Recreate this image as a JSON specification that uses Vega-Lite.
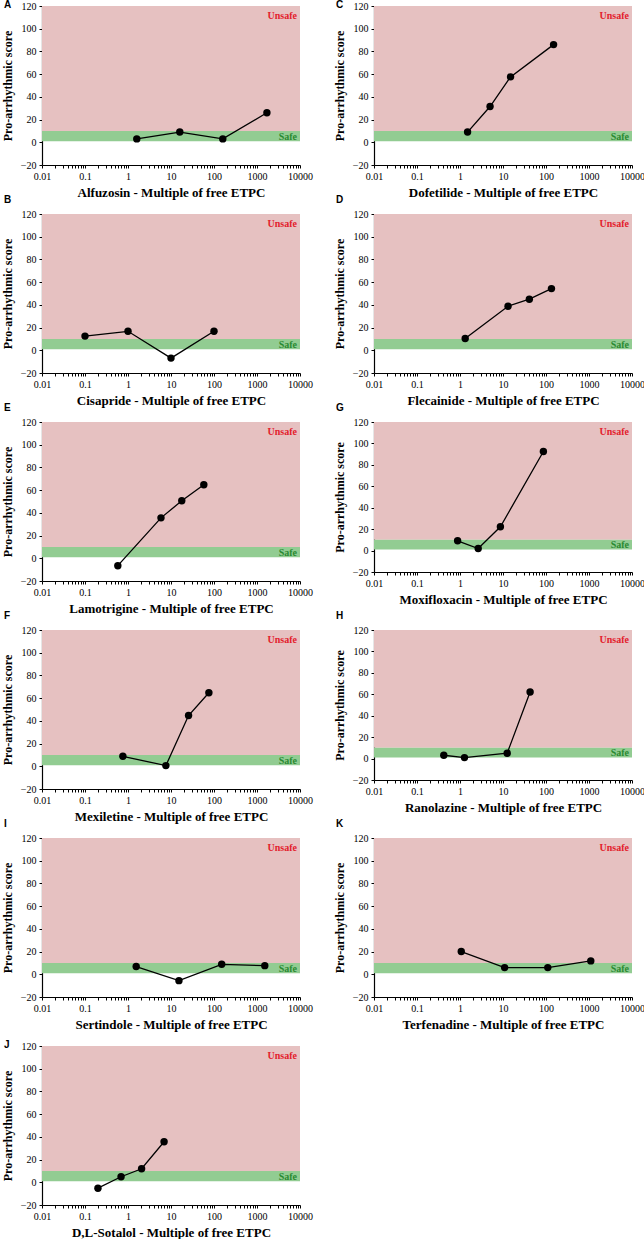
{
"$schema": "https://vega.github.io/schema/vega-lite/v6.json",
"padding": {"left": 1, "top": 0, "right": 0, "bottom": 0},
"background": "white",
"datasets": {
"bands": [{"zone": "Unsafe", "lo": 10, "hi": 120}, {"zone": "Safe", "lo": 1, "hi": 10}],
"drugs": [
{"drug": "Alfuzosin", "multiple": 1.6, "score": 3}, {"drug": "Alfuzosin", "multiple": 16, "score": 9}, {"drug": "Alfuzosin", "multiple": 160, "score": 3}, {"drug": "Alfuzosin", "multiple": 1700, "score": 26},
{"drug": "Dofetilide", "multiple": 1.5, "score": 9}, {"drug": "Dofetilide", "multiple": 5, "score": 31.5}, {"drug": "Dofetilide", "multiple": 15, "score": 57.6}, {"drug": "Dofetilide", "multiple": 150, "score": 86},
{"drug": "Cisapride", "multiple": 0.1, "score": 12.5}, {"drug": "Cisapride", "multiple": 1, "score": 16.7}, {"drug": "Cisapride", "multiple": 10, "score": -6.9}, {"drug": "Cisapride", "multiple": 100, "score": 16.7},
{"drug": "Flecainide", "multiple": 1.32, "score": 10.4}, {"drug": "Flecainide", "multiple": 13.1, "score": 38.8}, {"drug": "Flecainide", "multiple": 41, "score": 45}, {"drug": "Flecainide", "multiple": 134, "score": 54.3},
{"drug": "Lamotrigine", "multiple": 0.58, "score": -6.5}, {"drug": "Lamotrigine", "multiple": 5.85, "score": 35.6}, {"drug": "Lamotrigine", "multiple": 17.8, "score": 50.6}, {"drug": "Lamotrigine", "multiple": 58, "score": 64.7},
{"drug": "Moxifloxacin", "multiple": 0.88, "score": 9.1}, {"drug": "Moxifloxacin", "multiple": 2.65, "score": 1.9}, {"drug": "Moxifloxacin", "multiple": 8.7, "score": 22.2}, {"drug": "Moxifloxacin", "multiple": 87, "score": 92.5},
{"drug": "Mexiletine", "multiple": 0.76, "score": 8.8}, {"drug": "Mexiletine", "multiple": 7.6, "score": 0.6}, {"drug": "Mexiletine", "multiple": 25.6, "score": 44.7}, {"drug": "Mexiletine", "multiple": 76, "score": 64.7},
{"drug": "Ranolazine", "multiple": 0.42, "score": 3.1}, {"drug": "Ranolazine", "multiple": 1.27, "score": 0.9}, {"drug": "Ranolazine", "multiple": 12.5, "score": 5}, {"drug": "Ranolazine", "multiple": 42.7, "score": 62.2},
{"drug": "Sertindole", "multiple": 1.55, "score": 6.8}, {"drug": "Sertindole", "multiple": 15.3, "score": -5.6}, {"drug": "Sertindole", "multiple": 151, "score": 8.8}, {"drug": "Sertindole", "multiple": 1517, "score": 7.6},
{"drug": "Terfenadine", "multiple": 1.07, "score": 20}, {"drug": "Terfenadine", "multiple": 10.9, "score": 5.9}, {"drug": "Terfenadine", "multiple": 110, "score": 5.9}, {"drug": "Terfenadine", "multiple": 1100, "score": 11.8},
{"drug": "D,L-Sotalol", "multiple": 0.2, "score": -5.2}, {"drug": "D,L-Sotalol", "multiple": 0.69, "score": 4.9}, {"drug": "D,L-Sotalol", "multiple": 2.07, "score": 11.9}, {"drug": "D,L-Sotalol", "multiple": 6.9, "score": 35.7}
]
},
"columns": 2,
"bounds": "flush",
"spacing": {"row": 49, "column": 74},
"concat": [
{"title": {"text": "A", "dy": 13}, "width": 258, "height": 159, "layer": [
{"data": {"name": "bands"}, "mark": {"type": "rect"}, "encoding": {"x": {"datum": 0.01, "type": "quantitative"}, "x2": {"datum": 10000}, "y": {"field": "lo", "type": "quantitative"}, "y2": {"field": "hi"}, "color": {"field": "zone", "type": "nominal", "scale": {"domain": ["Unsafe", "Safe"], "range": ["#e6c1c1", "#92cc92"]}, "legend": null}}},
{"data": {"name": "bands"}, "transform": [{"filter": "datum.zone==='Unsafe'"}], "mark": {"type": "text", "align": "right", "baseline": "alphabetic", "dx": -3, "dy": 13, "font": "Liberation Serif", "fontWeight": "bold", "fontSize": 10, "color": "#e3202c"}, "encoding": {"x": {"datum": 10000, "type": "quantitative"}, "y": {"field": "hi", "type": "quantitative"}, "text": {"field": "zone"}}},
{"data": {"name": "bands"}, "transform": [{"filter": "datum.zone==='Safe'"}], "mark": {"type": "text", "align": "right", "baseline": "alphabetic", "dx": -3, "dy": -1.5, "font": "Liberation Serif", "fontWeight": "bold", "fontSize": 10, "color": "#2a8a32"}, "encoding": {"x": {"datum": 10000, "type": "quantitative"}, "y": {"field": "lo", "type": "quantitative"}, "text": {"field": "zone"}}},
{"data": {"name": "drugs"}, "transform": [{"filter": "datum.drug==='Alfuzosin'"}], "mark": {"type": "line", "color": "black", "strokeWidth": 1.3}, "encoding": {"x": {"field": "multiple", "type": "quantitative", "scale": {"type": "log", "domain": [0.01, 10000], "nice": false}, "title": "Alfuzosin - Multiple of free ETPC"}, "y": {"field": "score", "type": "quantitative", "scale": {"domain": [-20, 120], "nice": false}, "title": "Pro-arrhythmic score"}}},
{"data": {"name": "drugs"}, "transform": [{"filter": "datum.drug==='Alfuzosin'"}], "mark": {"type": "point", "filled": true, "color": "black", "size": 55, "opacity": 1}, "encoding": {"x": {"field": "multiple", "type": "quantitative"}, "y": {"field": "score", "type": "quantitative"}}}
]},
{"title": {"text": "C", "dy": 13}, "width": 258, "height": 159, "layer": [
{"data": {"name": "bands"}, "mark": {"type": "rect"}, "encoding": {"x": {"datum": 0.01, "type": "quantitative"}, "x2": {"datum": 10000}, "y": {"field": "lo", "type": "quantitative"}, "y2": {"field": "hi"}, "color": {"field": "zone", "type": "nominal", "scale": {"domain": ["Unsafe", "Safe"], "range": ["#e6c1c1", "#92cc92"]}, "legend": null}}},
{"data": {"name": "bands"}, "transform": [{"filter": "datum.zone==='Unsafe'"}], "mark": {"type": "text", "align": "right", "baseline": "alphabetic", "dx": -3, "dy": 13, "font": "Liberation Serif", "fontWeight": "bold", "fontSize": 10, "color": "#e3202c"}, "encoding": {"x": {"datum": 10000, "type": "quantitative"}, "y": {"field": "hi", "type": "quantitative"}, "text": {"field": "zone"}}},
{"data": {"name": "bands"}, "transform": [{"filter": "datum.zone==='Safe'"}], "mark": {"type": "text", "align": "right", "baseline": "alphabetic", "dx": -3, "dy": -1.5, "font": "Liberation Serif", "fontWeight": "bold", "fontSize": 10, "color": "#2a8a32"}, "encoding": {"x": {"datum": 10000, "type": "quantitative"}, "y": {"field": "lo", "type": "quantitative"}, "text": {"field": "zone"}}},
{"data": {"name": "drugs"}, "transform": [{"filter": "datum.drug==='Dofetilide'"}], "mark": {"type": "line", "color": "black", "strokeWidth": 1.3}, "encoding": {"x": {"field": "multiple", "type": "quantitative", "scale": {"type": "log", "domain": [0.01, 10000], "nice": false}, "title": "Dofetilide - Multiple of free ETPC"}, "y": {"field": "score", "type": "quantitative", "scale": {"domain": [-20, 120], "nice": false}, "title": "Pro-arrhythmic score"}}},
{"data": {"name": "drugs"}, "transform": [{"filter": "datum.drug==='Dofetilide'"}], "mark": {"type": "point", "filled": true, "color": "black", "size": 55, "opacity": 1}, "encoding": {"x": {"field": "multiple", "type": "quantitative"}, "y": {"field": "score", "type": "quantitative"}}}
]},
{"title": {"text": "B", "dy": 0}, "width": 258, "height": 159, "layer": [
{"data": {"name": "bands"}, "mark": {"type": "rect"}, "encoding": {"x": {"datum": 0.01, "type": "quantitative"}, "x2": {"datum": 10000}, "y": {"field": "lo", "type": "quantitative"}, "y2": {"field": "hi"}, "color": {"field": "zone", "type": "nominal", "scale": {"domain": ["Unsafe", "Safe"], "range": ["#e6c1c1", "#92cc92"]}, "legend": null}}},
{"data": {"name": "bands"}, "transform": [{"filter": "datum.zone==='Unsafe'"}], "mark": {"type": "text", "align": "right", "baseline": "alphabetic", "dx": -3, "dy": 13, "font": "Liberation Serif", "fontWeight": "bold", "fontSize": 10, "color": "#e3202c"}, "encoding": {"x": {"datum": 10000, "type": "quantitative"}, "y": {"field": "hi", "type": "quantitative"}, "text": {"field": "zone"}}},
{"data": {"name": "bands"}, "transform": [{"filter": "datum.zone==='Safe'"}], "mark": {"type": "text", "align": "right", "baseline": "alphabetic", "dx": -3, "dy": -1.5, "font": "Liberation Serif", "fontWeight": "bold", "fontSize": 10, "color": "#2a8a32"}, "encoding": {"x": {"datum": 10000, "type": "quantitative"}, "y": {"field": "lo", "type": "quantitative"}, "text": {"field": "zone"}}},
{"data": {"name": "drugs"}, "transform": [{"filter": "datum.drug==='Cisapride'"}], "mark": {"type": "line", "color": "black", "strokeWidth": 1.3}, "encoding": {"x": {"field": "multiple", "type": "quantitative", "scale": {"type": "log", "domain": [0.01, 10000], "nice": false}, "title": "Cisapride - Multiple of free ETPC"}, "y": {"field": "score", "type": "quantitative", "scale": {"domain": [-20, 120], "nice": false}, "title": "Pro-arrhythmic score"}}},
{"data": {"name": "drugs"}, "transform": [{"filter": "datum.drug==='Cisapride'"}], "mark": {"type": "point", "filled": true, "color": "black", "size": 55, "opacity": 1}, "encoding": {"x": {"field": "multiple", "type": "quantitative"}, "y": {"field": "score", "type": "quantitative"}}}
]},
{"title": {"text": "D", "dy": 0}, "width": 258, "height": 159, "layer": [
{"data": {"name": "bands"}, "mark": {"type": "rect"}, "encoding": {"x": {"datum": 0.01, "type": "quantitative"}, "x2": {"datum": 10000}, "y": {"field": "lo", "type": "quantitative"}, "y2": {"field": "hi"}, "color": {"field": "zone", "type": "nominal", "scale": {"domain": ["Unsafe", "Safe"], "range": ["#e6c1c1", "#92cc92"]}, "legend": null}}},
{"data": {"name": "bands"}, "transform": [{"filter": "datum.zone==='Unsafe'"}], "mark": {"type": "text", "align": "right", "baseline": "alphabetic", "dx": -3, "dy": 13, "font": "Liberation Serif", "fontWeight": "bold", "fontSize": 10, "color": "#e3202c"}, "encoding": {"x": {"datum": 10000, "type": "quantitative"}, "y": {"field": "hi", "type": "quantitative"}, "text": {"field": "zone"}}},
{"data": {"name": "bands"}, "transform": [{"filter": "datum.zone==='Safe'"}], "mark": {"type": "text", "align": "right", "baseline": "alphabetic", "dx": -3, "dy": -1.5, "font": "Liberation Serif", "fontWeight": "bold", "fontSize": 10, "color": "#2a8a32"}, "encoding": {"x": {"datum": 10000, "type": "quantitative"}, "y": {"field": "lo", "type": "quantitative"}, "text": {"field": "zone"}}},
{"data": {"name": "drugs"}, "transform": [{"filter": "datum.drug==='Flecainide'"}], "mark": {"type": "line", "color": "black", "strokeWidth": 1.3}, "encoding": {"x": {"field": "multiple", "type": "quantitative", "scale": {"type": "log", "domain": [0.01, 10000], "nice": false}, "title": "Flecainide - Multiple of free ETPC"}, "y": {"field": "score", "type": "quantitative", "scale": {"domain": [-20, 120], "nice": false}, "title": "Pro-arrhythmic score"}}},
{"data": {"name": "drugs"}, "transform": [{"filter": "datum.drug==='Flecainide'"}], "mark": {"type": "point", "filled": true, "color": "black", "size": 55, "opacity": 1}, "encoding": {"x": {"field": "multiple", "type": "quantitative"}, "y": {"field": "score", "type": "quantitative"}}}
]},
{"title": {"text": "E", "dy": 0}, "width": 258, "height": 159, "layer": [
{"data": {"name": "bands"}, "mark": {"type": "rect"}, "encoding": {"x": {"datum": 0.01, "type": "quantitative"}, "x2": {"datum": 10000}, "y": {"field": "lo", "type": "quantitative"}, "y2": {"field": "hi"}, "color": {"field": "zone", "type": "nominal", "scale": {"domain": ["Unsafe", "Safe"], "range": ["#e6c1c1", "#92cc92"]}, "legend": null}}},
{"data": {"name": "bands"}, "transform": [{"filter": "datum.zone==='Unsafe'"}], "mark": {"type": "text", "align": "right", "baseline": "alphabetic", "dx": -3, "dy": 13, "font": "Liberation Serif", "fontWeight": "bold", "fontSize": 10, "color": "#e3202c"}, "encoding": {"x": {"datum": 10000, "type": "quantitative"}, "y": {"field": "hi", "type": "quantitative"}, "text": {"field": "zone"}}},
{"data": {"name": "bands"}, "transform": [{"filter": "datum.zone==='Safe'"}], "mark": {"type": "text", "align": "right", "baseline": "alphabetic", "dx": -3, "dy": -1.5, "font": "Liberation Serif", "fontWeight": "bold", "fontSize": 10, "color": "#2a8a32"}, "encoding": {"x": {"datum": 10000, "type": "quantitative"}, "y": {"field": "lo", "type": "quantitative"}, "text": {"field": "zone"}}},
{"data": {"name": "drugs"}, "transform": [{"filter": "datum.drug==='Lamotrigine'"}], "mark": {"type": "line", "color": "black", "strokeWidth": 1.3}, "encoding": {"x": {"field": "multiple", "type": "quantitative", "scale": {"type": "log", "domain": [0.01, 10000], "nice": false}, "title": "Lamotrigine - Multiple of free ETPC"}, "y": {"field": "score", "type": "quantitative", "scale": {"domain": [-20, 120], "nice": false}, "title": "Pro-arrhythmic score"}}},
{"data": {"name": "drugs"}, "transform": [{"filter": "datum.drug==='Lamotrigine'"}], "mark": {"type": "point", "filled": true, "color": "black", "size": 55, "opacity": 1}, "encoding": {"x": {"field": "multiple", "type": "quantitative"}, "y": {"field": "score", "type": "quantitative"}}}
]},
{"title": {"text": "G", "dy": 0}, "width": 258, "height": 150, "layer": [
{"data": {"name": "bands"}, "mark": {"type": "rect"}, "encoding": {"x": {"datum": 0.01, "type": "quantitative"}, "x2": {"datum": 10000}, "y": {"field": "lo", "type": "quantitative"}, "y2": {"field": "hi"}, "color": {"field": "zone", "type": "nominal", "scale": {"domain": ["Unsafe", "Safe"], "range": ["#e6c1c1", "#92cc92"]}, "legend": null}}},
{"data": {"name": "bands"}, "transform": [{"filter": "datum.zone==='Unsafe'"}], "mark": {"type": "text", "align": "right", "baseline": "alphabetic", "dx": -3, "dy": 13, "font": "Liberation Serif", "fontWeight": "bold", "fontSize": 10, "color": "#e3202c"}, "encoding": {"x": {"datum": 10000, "type": "quantitative"}, "y": {"field": "hi", "type": "quantitative"}, "text": {"field": "zone"}}},
{"data": {"name": "bands"}, "transform": [{"filter": "datum.zone==='Safe'"}], "mark": {"type": "text", "align": "right", "baseline": "alphabetic", "dx": -3, "dy": -1.5, "font": "Liberation Serif", "fontWeight": "bold", "fontSize": 10, "color": "#2a8a32"}, "encoding": {"x": {"datum": 10000, "type": "quantitative"}, "y": {"field": "lo", "type": "quantitative"}, "text": {"field": "zone"}}},
{"data": {"name": "drugs"}, "transform": [{"filter": "datum.drug==='Moxifloxacin'"}], "mark": {"type": "line", "color": "black", "strokeWidth": 1.3}, "encoding": {"x": {"field": "multiple", "type": "quantitative", "scale": {"type": "log", "domain": [0.01, 10000], "nice": false}, "title": "Moxifloxacin - Multiple of free ETPC"}, "y": {"field": "score", "type": "quantitative", "scale": {"domain": [-20, 120], "nice": false}, "title": "Pro-arrhythmic score"}}},
{"data": {"name": "drugs"}, "transform": [{"filter": "datum.drug==='Moxifloxacin'"}], "mark": {"type": "point", "filled": true, "color": "black", "size": 55, "opacity": 1}, "encoding": {"x": {"field": "multiple", "type": "quantitative"}, "y": {"field": "score", "type": "quantitative"}}}
]},
{"title": {"text": "F", "dy": 0}, "width": 258, "height": 159, "layer": [
{"data": {"name": "bands"}, "mark": {"type": "rect"}, "encoding": {"x": {"datum": 0.01, "type": "quantitative"}, "x2": {"datum": 10000}, "y": {"field": "lo", "type": "quantitative"}, "y2": {"field": "hi"}, "color": {"field": "zone", "type": "nominal", "scale": {"domain": ["Unsafe", "Safe"], "range": ["#e6c1c1", "#92cc92"]}, "legend": null}}},
{"data": {"name": "bands"}, "transform": [{"filter": "datum.zone==='Unsafe'"}], "mark": {"type": "text", "align": "right", "baseline": "alphabetic", "dx": -3, "dy": 13, "font": "Liberation Serif", "fontWeight": "bold", "fontSize": 10, "color": "#e3202c"}, "encoding": {"x": {"datum": 10000, "type": "quantitative"}, "y": {"field": "hi", "type": "quantitative"}, "text": {"field": "zone"}}},
{"data": {"name": "bands"}, "transform": [{"filter": "datum.zone==='Safe'"}], "mark": {"type": "text", "align": "right", "baseline": "alphabetic", "dx": -3, "dy": -1.5, "font": "Liberation Serif", "fontWeight": "bold", "fontSize": 10, "color": "#2a8a32"}, "encoding": {"x": {"datum": 10000, "type": "quantitative"}, "y": {"field": "lo", "type": "quantitative"}, "text": {"field": "zone"}}},
{"data": {"name": "drugs"}, "transform": [{"filter": "datum.drug==='Mexiletine'"}], "mark": {"type": "line", "color": "black", "strokeWidth": 1.3}, "encoding": {"x": {"field": "multiple", "type": "quantitative", "scale": {"type": "log", "domain": [0.01, 10000], "nice": false}, "title": "Mexiletine - Multiple of free ETPC"}, "y": {"field": "score", "type": "quantitative", "scale": {"domain": [-20, 120], "nice": false}, "title": "Pro-arrhythmic score"}}},
{"data": {"name": "drugs"}, "transform": [{"filter": "datum.drug==='Mexiletine'"}], "mark": {"type": "point", "filled": true, "color": "black", "size": 55, "opacity": 1}, "encoding": {"x": {"field": "multiple", "type": "quantitative"}, "y": {"field": "score", "type": "quantitative"}}}
]},
{"title": {"text": "H", "dy": 0}, "width": 258, "height": 150, "layer": [
{"data": {"name": "bands"}, "mark": {"type": "rect"}, "encoding": {"x": {"datum": 0.01, "type": "quantitative"}, "x2": {"datum": 10000}, "y": {"field": "lo", "type": "quantitative"}, "y2": {"field": "hi"}, "color": {"field": "zone", "type": "nominal", "scale": {"domain": ["Unsafe", "Safe"], "range": ["#e6c1c1", "#92cc92"]}, "legend": null}}},
{"data": {"name": "bands"}, "transform": [{"filter": "datum.zone==='Unsafe'"}], "mark": {"type": "text", "align": "right", "baseline": "alphabetic", "dx": -3, "dy": 13, "font": "Liberation Serif", "fontWeight": "bold", "fontSize": 10, "color": "#e3202c"}, "encoding": {"x": {"datum": 10000, "type": "quantitative"}, "y": {"field": "hi", "type": "quantitative"}, "text": {"field": "zone"}}},
{"data": {"name": "bands"}, "transform": [{"filter": "datum.zone==='Safe'"}], "mark": {"type": "text", "align": "right", "baseline": "alphabetic", "dx": -3, "dy": -1.5, "font": "Liberation Serif", "fontWeight": "bold", "fontSize": 10, "color": "#2a8a32"}, "encoding": {"x": {"datum": 10000, "type": "quantitative"}, "y": {"field": "lo", "type": "quantitative"}, "text": {"field": "zone"}}},
{"data": {"name": "drugs"}, "transform": [{"filter": "datum.drug==='Ranolazine'"}], "mark": {"type": "line", "color": "black", "strokeWidth": 1.3}, "encoding": {"x": {"field": "multiple", "type": "quantitative", "scale": {"type": "log", "domain": [0.01, 10000], "nice": false}, "title": "Ranolazine - Multiple of free ETPC"}, "y": {"field": "score", "type": "quantitative", "scale": {"domain": [-20, 120], "nice": false}, "title": "Pro-arrhythmic score"}}},
{"data": {"name": "drugs"}, "transform": [{"filter": "datum.drug==='Ranolazine'"}], "mark": {"type": "point", "filled": true, "color": "black", "size": 55, "opacity": 1}, "encoding": {"x": {"field": "multiple", "type": "quantitative"}, "y": {"field": "score", "type": "quantitative"}}}
]},
{"title": {"text": "I", "dy": 0}, "width": 258, "height": 159, "layer": [
{"data": {"name": "bands"}, "mark": {"type": "rect"}, "encoding": {"x": {"datum": 0.01, "type": "quantitative"}, "x2": {"datum": 10000}, "y": {"field": "lo", "type": "quantitative"}, "y2": {"field": "hi"}, "color": {"field": "zone", "type": "nominal", "scale": {"domain": ["Unsafe", "Safe"], "range": ["#e6c1c1", "#92cc92"]}, "legend": null}}},
{"data": {"name": "bands"}, "transform": [{"filter": "datum.zone==='Unsafe'"}], "mark": {"type": "text", "align": "right", "baseline": "alphabetic", "dx": -3, "dy": 13, "font": "Liberation Serif", "fontWeight": "bold", "fontSize": 10, "color": "#e3202c"}, "encoding": {"x": {"datum": 10000, "type": "quantitative"}, "y": {"field": "hi", "type": "quantitative"}, "text": {"field": "zone"}}},
{"data": {"name": "bands"}, "transform": [{"filter": "datum.zone==='Safe'"}], "mark": {"type": "text", "align": "right", "baseline": "alphabetic", "dx": -3, "dy": -1.5, "font": "Liberation Serif", "fontWeight": "bold", "fontSize": 10, "color": "#2a8a32"}, "encoding": {"x": {"datum": 10000, "type": "quantitative"}, "y": {"field": "lo", "type": "quantitative"}, "text": {"field": "zone"}}},
{"data": {"name": "drugs"}, "transform": [{"filter": "datum.drug==='Sertindole'"}], "mark": {"type": "line", "color": "black", "strokeWidth": 1.3}, "encoding": {"x": {"field": "multiple", "type": "quantitative", "scale": {"type": "log", "domain": [0.01, 10000], "nice": false}, "title": "Sertindole - Multiple of free ETPC"}, "y": {"field": "score", "type": "quantitative", "scale": {"domain": [-20, 120], "nice": false}, "title": "Pro-arrhythmic score"}}},
{"data": {"name": "drugs"}, "transform": [{"filter": "datum.drug==='Sertindole'"}], "mark": {"type": "point", "filled": true, "color": "black", "size": 55, "opacity": 1}, "encoding": {"x": {"field": "multiple", "type": "quantitative"}, "y": {"field": "score", "type": "quantitative"}}}
]},
{"title": {"text": "K", "dy": 0}, "width": 258, "height": 159, "layer": [
{"data": {"name": "bands"}, "mark": {"type": "rect"}, "encoding": {"x": {"datum": 0.01, "type": "quantitative"}, "x2": {"datum": 10000}, "y": {"field": "lo", "type": "quantitative"}, "y2": {"field": "hi"}, "color": {"field": "zone", "type": "nominal", "scale": {"domain": ["Unsafe", "Safe"], "range": ["#e6c1c1", "#92cc92"]}, "legend": null}}},
{"data": {"name": "bands"}, "transform": [{"filter": "datum.zone==='Unsafe'"}], "mark": {"type": "text", "align": "right", "baseline": "alphabetic", "dx": -3, "dy": 13, "font": "Liberation Serif", "fontWeight": "bold", "fontSize": 10, "color": "#e3202c"}, "encoding": {"x": {"datum": 10000, "type": "quantitative"}, "y": {"field": "hi", "type": "quantitative"}, "text": {"field": "zone"}}},
{"data": {"name": "bands"}, "transform": [{"filter": "datum.zone==='Safe'"}], "mark": {"type": "text", "align": "right", "baseline": "alphabetic", "dx": -3, "dy": -1.5, "font": "Liberation Serif", "fontWeight": "bold", "fontSize": 10, "color": "#2a8a32"}, "encoding": {"x": {"datum": 10000, "type": "quantitative"}, "y": {"field": "lo", "type": "quantitative"}, "text": {"field": "zone"}}},
{"data": {"name": "drugs"}, "transform": [{"filter": "datum.drug==='Terfenadine'"}], "mark": {"type": "line", "color": "black", "strokeWidth": 1.3}, "encoding": {"x": {"field": "multiple", "type": "quantitative", "scale": {"type": "log", "domain": [0.01, 10000], "nice": false}, "title": "Terfenadine - Multiple of free ETPC"}, "y": {"field": "score", "type": "quantitative", "scale": {"domain": [-20, 120], "nice": false}, "title": "Pro-arrhythmic score"}}},
{"data": {"name": "drugs"}, "transform": [{"filter": "datum.drug==='Terfenadine'"}], "mark": {"type": "point", "filled": true, "color": "black", "size": 55, "opacity": 1}, "encoding": {"x": {"field": "multiple", "type": "quantitative"}, "y": {"field": "score", "type": "quantitative"}}}
]},
{"title": {"text": "J", "dy": 13}, "width": 258, "height": 159, "layer": [
{"data": {"name": "bands"}, "mark": {"type": "rect"}, "encoding": {"x": {"datum": 0.01, "type": "quantitative"}, "x2": {"datum": 10000}, "y": {"field": "lo", "type": "quantitative"}, "y2": {"field": "hi"}, "color": {"field": "zone", "type": "nominal", "scale": {"domain": ["Unsafe", "Safe"], "range": ["#e6c1c1", "#92cc92"]}, "legend": null}}},
{"data": {"name": "bands"}, "transform": [{"filter": "datum.zone==='Unsafe'"}], "mark": {"type": "text", "align": "right", "baseline": "alphabetic", "dx": -3, "dy": 13, "font": "Liberation Serif", "fontWeight": "bold", "fontSize": 10, "color": "#e3202c"}, "encoding": {"x": {"datum": 10000, "type": "quantitative"}, "y": {"field": "hi", "type": "quantitative"}, "text": {"field": "zone"}}},
{"data": {"name": "bands"}, "transform": [{"filter": "datum.zone==='Safe'"}], "mark": {"type": "text", "align": "right", "baseline": "alphabetic", "dx": -3, "dy": -1.5, "font": "Liberation Serif", "fontWeight": "bold", "fontSize": 10, "color": "#2a8a32"}, "encoding": {"x": {"datum": 10000, "type": "quantitative"}, "y": {"field": "lo", "type": "quantitative"}, "text": {"field": "zone"}}},
{"data": {"name": "drugs"}, "transform": [{"filter": "datum.drug==='D,L-Sotalol'"}], "mark": {"type": "line", "color": "black", "strokeWidth": 1.3}, "encoding": {"x": {"field": "multiple", "type": "quantitative", "scale": {"type": "log", "domain": [0.01, 10000], "nice": false}, "title": "D,L-Sotalol - Multiple of free ETPC"}, "y": {"field": "score", "type": "quantitative", "scale": {"domain": [-20, 120], "nice": false}, "title": "Pro-arrhythmic score"}}},
{"data": {"name": "drugs"}, "transform": [{"filter": "datum.drug==='D,L-Sotalol'"}], "mark": {"type": "point", "filled": true, "color": "black", "size": 55, "opacity": 1}, "encoding": {"x": {"field": "multiple", "type": "quantitative"}, "y": {"field": "score", "type": "quantitative"}}}
]}
],
"config": {
"view": {"stroke": null},
"title": {"anchor": "start", "frame": "group", "font": "Liberation Sans", "fontSize": 10, "fontWeight": "bold", "color": "black", "dx": -38, "offset": 0},
"axis": {"grid": false, "domainColor": "black", "tickColor": "black", "labelColor": "black", "titleColor": "black", "labelFont": "Liberation Serif", "titleFont": "Liberation Serif", "titleFontWeight": "bold", "tickSize": 3, "domainWidth": 1.2},
"axisX": {"tickCount": 10, "labelExpr": "abs(log(datum.value)/LN10 - round(log(datum.value)/LN10)) < 1e-6 ? format(datum.value, '') : ''", "labelOverlap": false, "labelFlush": false, "labelBound": false, "labelFontSize": 10, "labelPadding": 3, "titleFontSize": 13, "titlePadding": 5},
"axisY": {"tickCount": 7, "labelFontSize": 10, "labelPadding": 3, "titleFontSize": 12, "titlePadding": 6}
}
}
